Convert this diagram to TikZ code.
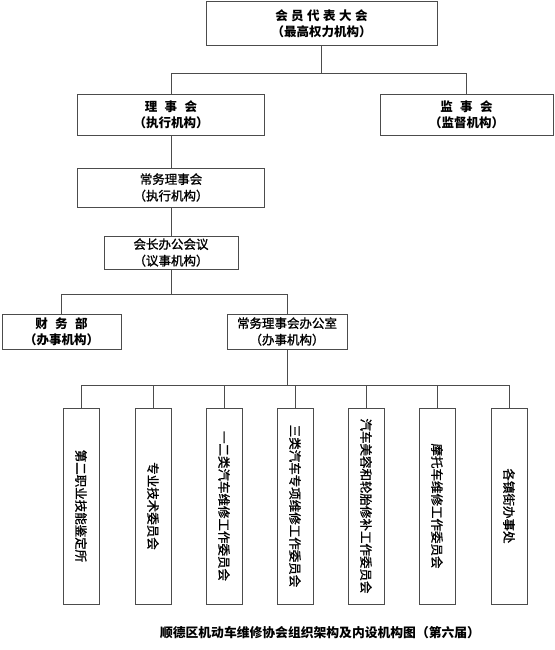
\documentclass[tikz,border=0pt]{standalone}
\usepackage{fontspec}
\usetikzlibrary{calc}
\setmainfont{Noto Sans CJK SC}
\newfontfamily\medfont{Noto Sans CJK SC}[FakeBold=1.2]
\begin{document}
\begin{tikzpicture}[x=1pt,y=-1pt,
  box/.style={draw=black!70,line width=1pt,fill=white,align=center,inner sep=0pt,
    font=\fontsize{12.5}{16.5}\selectfont\bfseries},
  mbox/.style={box,font=\fontsize{12.5}{16.5}\selectfont\medfont},
  vbox/.style={draw=black!70,line width=1pt,minimum width=36pt,minimum height=196pt,inner sep=0pt},
  vtext/.style={rotate=-90,font=\fontsize{12.5}{14}\selectfont\medfont,inner sep=0pt},
  conn/.style={draw=black!70,line width=1pt}]
\useasboundingbox (0,0) rectangle (554,650);
\def\gap{\hspace{7.5pt}}
% upper levels
\node[box,minimum width=231pt,minimum height=44pt] (top) at (321.5,24)
  {会\hspace{3.5pt}员\hspace{3.5pt}代\hspace{3.5pt}表\hspace{3.5pt}大\hspace{3.5pt}会\\（最高权力机构）};
\node[box,minimum width=187pt,minimum height=40pt] (lishi) at (171,115)
  {理\gap 事\gap 会\\（执行机构）};
\node[box,minimum width=173pt,minimum height=40pt] (jianshi) at (466.5,115)
  {监\gap 事\gap 会\\（监督机构）};
\node[mbox,minimum width=187pt,minimum height=39pt] (changwu) at (171,187.5)
  {常务理事会\\（执行机构）};
\node[mbox,minimum width=134pt,minimum height=33pt] (huizhang) at (171,252.5)
  {会长办公会议\\（议事机构）};
\node[box,minimum width=119pt,minimum height=35pt] (caiwu) at (61.5,331.5)
  {财\gap 务\gap 部\\（办事机构）};
\node[mbox,minimum width=120pt,minimum height=35pt] (bangong) at (287,331.5)
  {常务理事会办公室\\（办事机构）};
% bottom level
\foreach \n/\xx/\t in {b1/81/第二职业技能鉴定所, b2/153/专业技术委员会, b3/224/一二类汽车维修工作委员会,
  b4/295/三类汽车专项维修工作委员会, b5/366/汽车美容和轮胎修补工作委员会,
  b6/437/摩托车维修工作委员会, b7/509/各镇街办事处}{
  \node[vbox] (\n) at (\xx,506) {};
  \node[vtext] (\n t) at (\n) {\t};
}
% connectors
\coordinate (j1) at ($(top.south)+(0,27)$);
\draw[conn] (top.south) -- (j1) -| (lishi.north);
\draw[conn] (j1) -| (jianshi.north);
\draw[conn] (lishi.south) -- (changwu.north);
\draw[conn] (changwu.south) -- (huizhang.north);
\coordinate (j2) at ($(huizhang.south)+(0,25)$);
\draw[conn] (huizhang.south) -- (j2) -| (caiwu.north);
\draw[conn] (j2) -| (bangong.north);
\coordinate (j3) at ($(bangong.south)+(0,36)$);
\draw[conn] (bangong.south) -- (j3);
\foreach \n in {b1,b2,b3,b4,b5,b6,b7}{
  \draw[conn] (j3) -| (\n.north);
}
% caption
\node[font=\fontsize{12.8}{14}\selectfont\bfseries] (cap) at (320,633)
  {顺德区机动车维修协会组织架构及内设机构图（第六届）};
\end{tikzpicture}
\end{document}
